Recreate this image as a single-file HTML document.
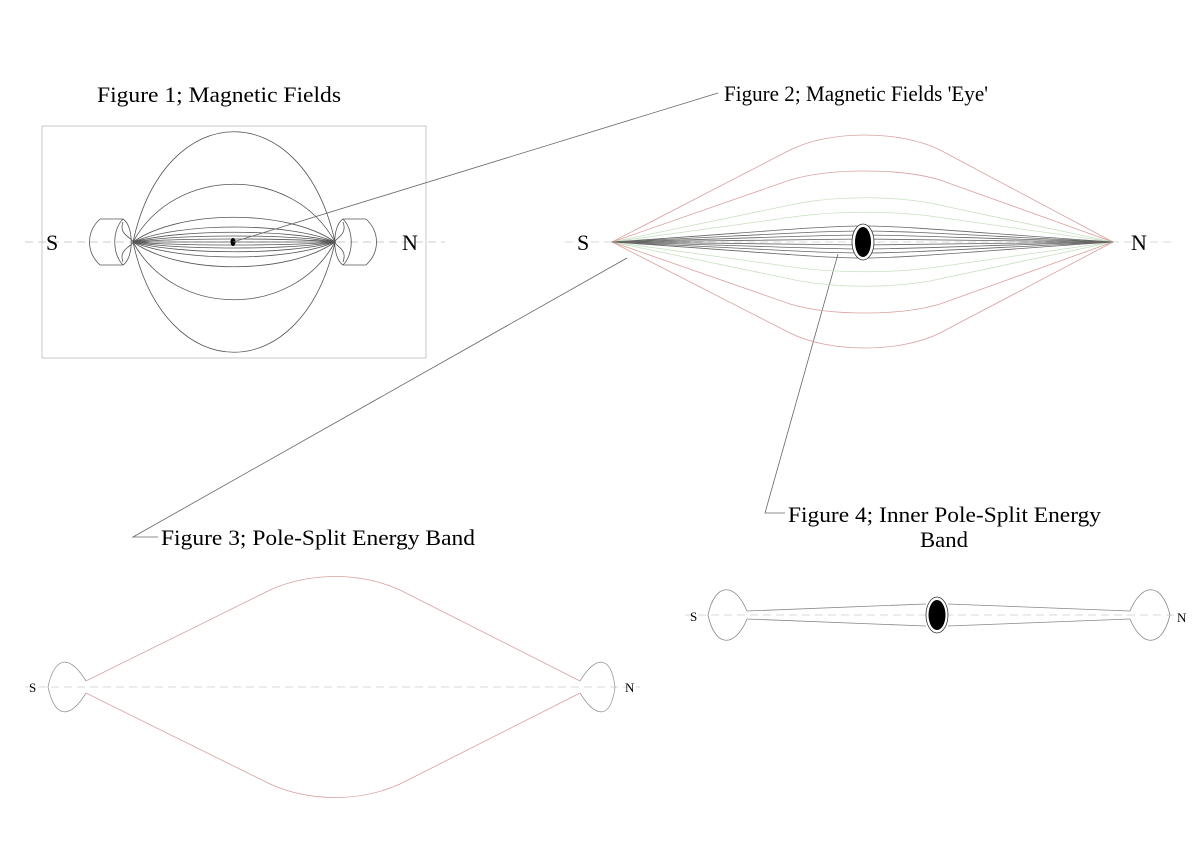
<!DOCTYPE html>
<html><head><style>body{margin:0;background:#fff}svg{display:block}text{font-family:"Liberation Serif",serif;fill:#000}</style></head><body>
<svg width="1200" height="849" viewBox="0 0 1200 849" xmlns="http://www.w3.org/2000/svg">
<g fill="none" stroke-width="0.8">
<!-- Figure 1 -->
<rect x="42" y="126" width="384" height="232" stroke="#bbb"/>
<line x1="25" y1="242" x2="445" y2="242" stroke="#bbb" stroke-dasharray="8,5"/>
<g stroke="#555">
<path d="M133 242 C165 95 303 95 335 242 C303 389 165 389 133 242"/>
<path d="M133 242 C175 165 293 165 335 242 C293 319 175 319 133 242"/>
<path d="M133 242 C180 209 288 209 335 242 C288 275 180 275 133 242"/>
<path d="M133 242 C180 222 288 222 335 242 C288 262 180 262 133 242"/>
<path d="M133 242 C180 229 288 229 335 242 C288 255 180 255 133 242"/>
<path d="M133 242 C180 234 288 234 335 242 C288 250 180 250 133 242"/>
<path d="M133 242 C180 238 288 238 335 242 C288 246 180 246 133 242"/>
<line x1="133" y1="242" x2="335" y2="242"/>
<path d="M100 219 L123 219 M100 265 L123 265 M100 219 C86 232 86 252 100 265 M123 219 C112 230 112 254 123 265 M123 219 C134 226 134 258 123 265 M123 222 C118 235 133 238 133 242 C133 246 118 249 123 262"/>
<path d="M343 219 L366 219 M343 265 L366 265 M366 219 C380 232 380 252 366 265 M343 219 C354 230 354 254 343 265 M343 219 C332 226 332 258 343 265 M343 222 C348 235 335 238 335 242 C335 246 348 249 343 262"/>
</g>
<ellipse cx="233" cy="242" rx="2.5" ry="4" fill="#000" stroke="none"/>
<!-- leaders -->
<g stroke="#666">
<line x1="233" y1="242" x2="718" y2="93"/>
<polyline points="627,258 133,537 158,537"/>
<polyline points="838,254 765,513 785,513"/>
</g>
<!-- Figure 2 -->
<line x1="565" y1="242" x2="1175" y2="242" stroke="#ccc" stroke-dasharray="8,5"/>
<g stroke="#d9a0a0">
<path d="M612 242 L790 150 C830 130 900 130 940 150 L1113 242 L940 333 C900 353 830 353 790 333 Z"/>
<path d="M612 242 L790 180 C830 168 900 168 940 180 L1113 242 L940 304 C900 316 830 316 790 304 Z"/>
</g>
<g stroke="#c8e0c0">
<path d="M612 242 L800 203 C840 196 890 196 930 203 L1113 242 L930 281 C890 288 840 288 800 281 Z"/>
<path d="M612 242 L800 216 C840 211 890 211 930 216 L1113 242 L930 268 C890 273 840 273 800 268 Z"/>
</g>
<g stroke="#666">
<path d="M612 242 C760 232 820 226 863 226 C906 226 966 232 1113 242 C966 252 906 258 863 258 C820 258 760 252 612 242"/>
<path d="M612 242 C760 235 820 231 863 231 C906 231 966 235 1113 242 C966 249 906 253 863 253 C820 253 760 249 612 242"/>
<path d="M612 242 C760 238 820 235 863 235 C906 235 966 238 1113 242 C966 246 906 249 863 249 C820 249 760 246 612 242"/>
<path d="M612 242 C760 240 820 239 863 239 C906 239 966 240 1113 242 C966 244 906 245 863 245 C820 245 760 244 612 242"/>
</g>
<ellipse cx="863" cy="242" rx="11" ry="18" fill="#fff" stroke="#333"/>
<ellipse cx="863" cy="242" rx="8" ry="15" fill="#000" stroke="none"/>
<!-- Figure 3 -->
<line x1="25" y1="687" x2="640" y2="687" stroke="#ccc" stroke-dasharray="8,5"/>
<g stroke="#999">
<path d="M86 681 C70 655 55 655 48 687 C55 719 70 719 86 693"/>
<path d="M580 681 C596 655 611 655 615 687 C611 719 596 719 580 693"/>
</g>
<g stroke="#d9a0a0">
<path d="M86 681 L270 590 C310 572 360 572 400 590 L580 681"/>
<path d="M86 693 L270 784 C310 802 360 802 400 784 L580 693"/>
</g>
<!-- Figure 4 -->
<line x1="685" y1="615" x2="1180" y2="615" stroke="#ccc" stroke-dasharray="8,5"/>
<g stroke="#888">
<path d="M747 611 C735 582 715 582 708 615 C715 648 735 648 747 619"/>
<path d="M1130 611 C1142 582 1162 582 1170 615 C1162 648 1142 648 1130 619"/>
<path d="M747 611 L926 604 M948 604 L1130 611 M747 619 L926 626 M948 626 L1130 619"/>
</g>
<ellipse cx="937" cy="615" rx="11" ry="18" fill="#fff" stroke="#333"/>
<ellipse cx="937" cy="615" rx="8.5" ry="15" fill="#000" stroke="none"/>
</g>
<text x="97" y="102" font-size="22" textLength="244" lengthAdjust="spacingAndGlyphs">Figure 1; Magnetic Fields</text>
<text x="724" y="101" font-size="22" textLength="264" lengthAdjust="spacingAndGlyphs">Figure 2; Magnetic Fields 'Eye'</text>
<text x="161" y="545" font-size="22" textLength="314" lengthAdjust="spacingAndGlyphs">Figure 3; Pole-Split Energy Band</text>
<text x="788" y="522" font-size="22" textLength="313" lengthAdjust="spacingAndGlyphs">Figure 4; Inner Pole-Split Energy</text>
<text x="920" y="547" font-size="22" textLength="48" lengthAdjust="spacingAndGlyphs">Band</text>
<text x="46" y="250" font-size="22">S</text>
<text x="402" y="250" font-size="22">N</text>
<text x="577" y="250" font-size="22">S</text>
<text x="1131" y="250" font-size="22">N</text>
<text x="29" y="692" font-size="13">S</text>
<text x="625" y="692" font-size="13">N</text>
<text x="690" y="621" font-size="13">S</text>
<text x="1177" y="622" font-size="13">N</text>
</svg>
</body></html>
